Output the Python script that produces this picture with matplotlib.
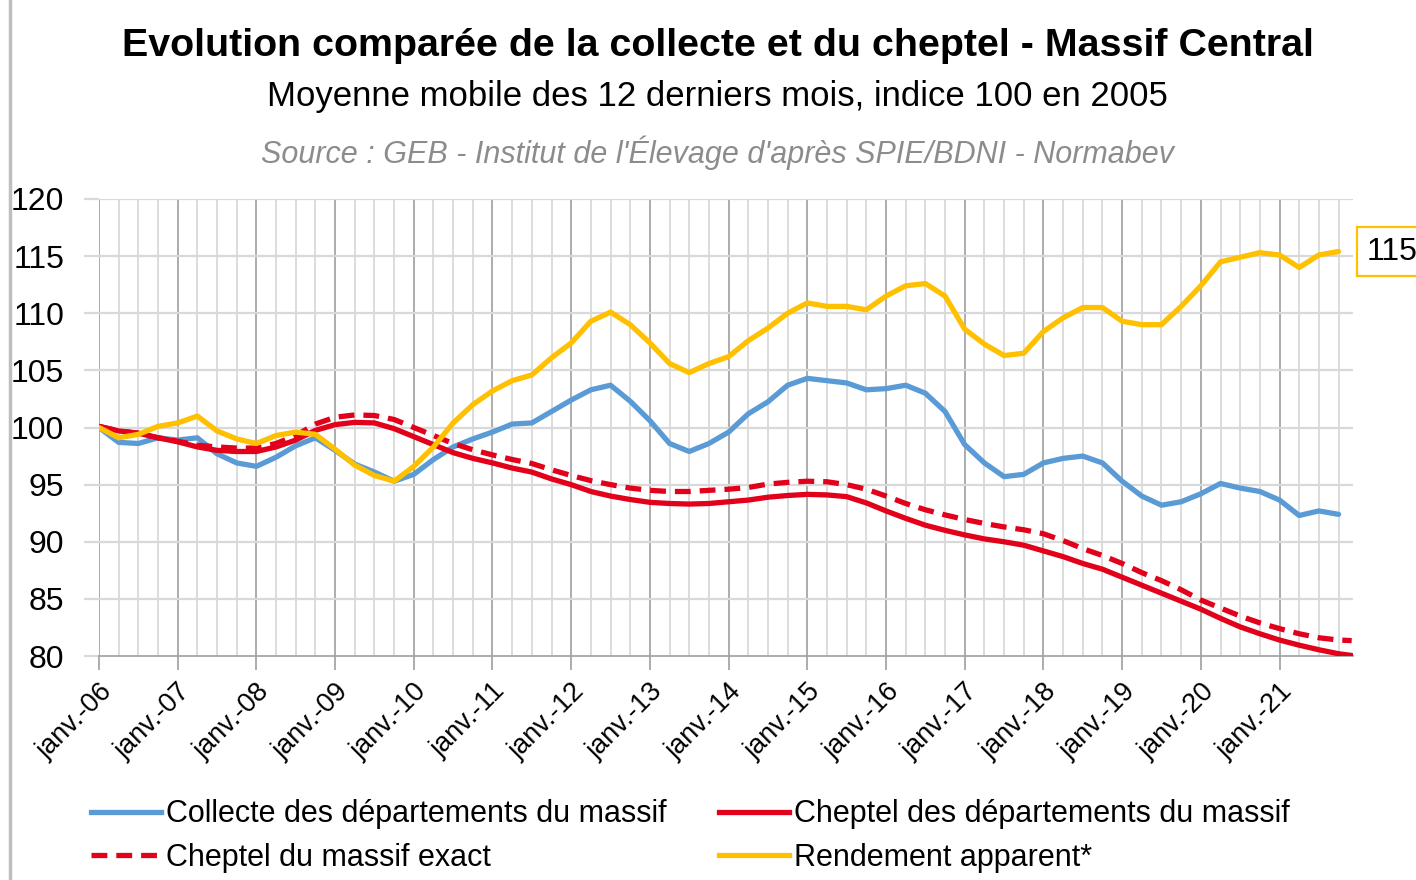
import matplotlib
matplotlib.use("Agg")
import matplotlib.pyplot as plt
from matplotlib.lines import Line2D

plt.rcParams['font.family'] = ['Liberation Sans', 'DejaVu Sans']

# mois depuis janv.-06 (un point par trimestre)
mois = list(range(0, 190, 3))
mois_chep = mois + [191]

collecte = [100.0, 98.7, 98.6, 99.1, 98.9, 99.1, 97.7, 96.9, 96.6, 97.4, 98.4, 99.1,
            98.0, 96.8, 96.1, 95.3, 95.9, 97.2, 98.3, 99.0, 99.6, 100.3, 100.4, 101.4,
            102.4, 103.3, 103.7, 102.3, 100.6, 98.6, 97.9, 98.6, 99.6, 101.2, 102.25, 103.7,
            104.3, 104.1, 103.9, 103.3, 103.4, 103.7, 103.0, 101.4, 98.5, 96.9, 95.7, 95.9,
            96.9, 97.3, 97.5, 96.9, 95.3, 94.0, 93.2, 93.5, 94.2, 95.1, 94.7, 94.4,
            93.65, 92.3, 92.7, 92.4]

cheptel_dep = [100.1, 99.7, 99.5, 99.1, 98.75, 98.3, 98.0, 97.9, 97.9, 98.3, 98.9, 99.75,
               100.25, 100.45, 100.4, 99.9, 99.2, 98.5, 97.8, 97.3, 96.9, 96.45, 96.1, 95.5,
               95.0, 94.4, 94.0, 93.7, 93.45, 93.35, 93.3, 93.35, 93.5, 93.65, 93.9, 94.05,
               94.15, 94.1, 93.95, 93.4, 92.7, 92.05, 91.45, 91.0, 90.6, 90.25, 90.0, 89.7,
               89.2, 88.7, 88.1, 87.6, 86.9, 86.2, 85.5, 84.8, 84.1, 83.3, 82.55, 81.95,
               81.4, 80.95, 80.55, 80.2, 80.05]

cheptel_exact = [100.1, 99.7, 99.5, 99.1, 98.8, 98.45, 98.3, 98.2, 98.2, 98.6, 99.3, 100.3,
                 100.9, 101.1, 101.05, 100.7, 100.0, 99.3, 98.6, 98.05, 97.6, 97.2, 96.85, 96.3,
                 95.8, 95.35, 95.0, 94.7, 94.5, 94.4, 94.4, 94.5, 94.6, 94.75, 95.05, 95.2,
                 95.3, 95.25, 95.0, 94.6, 94.0, 93.35, 92.8, 92.35, 91.95, 91.6, 91.3, 91.05,
                 90.7, 90.1, 89.4, 88.8, 88.1, 87.3, 86.6, 85.8, 84.9, 84.2, 83.5, 82.9,
                 82.4, 81.95, 81.6, 81.4, 81.35]

rendement = [100.0, 99.1, 99.4, 100.1, 100.4, 101.0, 99.7, 99.0, 98.6, 99.3, 99.6, 99.4,
             98.1, 96.7, 95.8, 95.3, 96.6, 98.3, 100.4, 102.0, 103.2, 104.1, 104.6, 106.1,
             107.4, 109.3, 110.1, 109.0, 107.4, 105.6, 104.8, 105.6, 106.2, 107.6, 108.7, 110.0,
             110.9, 110.6, 110.6, 110.3, 111.5, 112.4, 112.6, 111.5, 108.6, 107.3, 106.3, 106.5,
             108.4, 109.6, 110.5, 110.5, 109.3, 109.0, 109.0, 110.6, 112.4, 114.5, 114.9, 115.3,
             115.1, 114.0, 115.1, 115.4]

annees = ['06', '07', '08', '09', '10', '11', '12', '13', '14', '15', '16', '17', '18', '19', '20', '21']
etiquettes = ['janv.-' + a for a in annees]

bleu = '#5B9BD5'
rouge = '#E2001A'
jaune = '#FFC000'

fig = plt.figure(figsize=(14.16, 8.8), dpi=100)
ax = fig.add_axes([0.0699, 0.2545, 0.8856, 0.5194])

# grille
for k in range(0, 192, 3):
    ax.axvline(k, color='#a6a6a6' if k % 12 == 0 else '#d9d9d9', lw=1.3, zorder=0)
for v in range(85, 125, 5):
    ax.axhline(v, color='#d9d9d9', lw=1.6, zorder=0)

ax.plot(mois, collecte, color=bleu, lw=3.8, solid_capstyle='round', solid_joinstyle='round', zorder=3)
ax.plot(mois_chep, cheptel_dep, color=rouge, lw=3.8, solid_capstyle='round', solid_joinstyle='round', zorder=3)
ax.plot(mois_chep, cheptel_exact, color=rouge, lw=3.8, ls=(0, (3, 1.7)), zorder=3)
ax.plot(mois, rendement, color=jaune, lw=3.8, solid_capstyle='round', solid_joinstyle='round', zorder=4)

ax.annotate(f"{round(rendement[-1])}", xy=(mois[-1], rendement[-1]), xytext=(20, 0),
            textcoords='offset points', ha='left', va='center', fontsize=23,
            bbox=dict(boxstyle='square,pad=0.3', fc='white', ec=jaune, lw=1.6),
            annotation_clip=False)

ax.set_xlim(0, 191.2)
ax.set_ylim(80, 120)
ax.set_yticks(range(80, 125, 5))
ax.set_xticks(range(0, 192, 12))
ax.set_xticklabels(etiquettes, rotation=45, ha='right', va='top', rotation_mode='anchor', fontsize=19.5)
ax.tick_params(axis='x', length=10, width=1.3, color='#a6a6a6', pad=6)
ax.tick_params(axis='y', length=11, width=1.6, color='#d9d9d9', labelsize=23, pad=14)
for s in ['top', 'right', 'left']:
    ax.spines[s].set_visible(False)
ax.spines['bottom'].set_color('#a6a6a6')
ax.spines['bottom'].set_linewidth(1.3)

fig.text(0.507, 0.948, "Evolution comparée de la collecte et du cheptel - Massif Central",
         ha='center', va='center', fontsize=28.4, fontweight='bold')
fig.text(0.507, 0.890, "Moyenne mobile des 12 derniers mois, indice 100 en 2005",
         ha='center', va='center', fontsize=25)
fig.text(0.507, 0.826, "Source : GEB - Institut de l'Élevage d'après SPIE/BDNI - Normabev",
         ha='center', va='center', fontsize=22, style='italic', color='#8c8c8c')

poignees = [Line2D([], [], color=bleu, lw=3.8),
            Line2D([], [], color=rouge, lw=3.8, ls=(0, (3, 1.7))),
            Line2D([], [], color=rouge, lw=3.8),
            Line2D([], [], color=jaune, lw=3.8)]
noms = ["Collecte des départements du massif", "Cheptel du massif exact",
        "Cheptel des départements du massif", "Rendement apparent*"]
fig.legend(poignees, noms, ncol=2, loc='upper left', bbox_to_anchor=(0.045, 0.123),
           frameon=False, fontsize=22, handlelength=2.3, handletextpad=0.15,
           columnspacing=1.7, labelspacing=0.45)

fig.add_artist(Line2D([10 / 1416, 10 / 1416], [0, 1], transform=fig.transFigure,
                      color='#bfbfbf', lw=2.5))

fig.savefig('out.png', dpi=100)
